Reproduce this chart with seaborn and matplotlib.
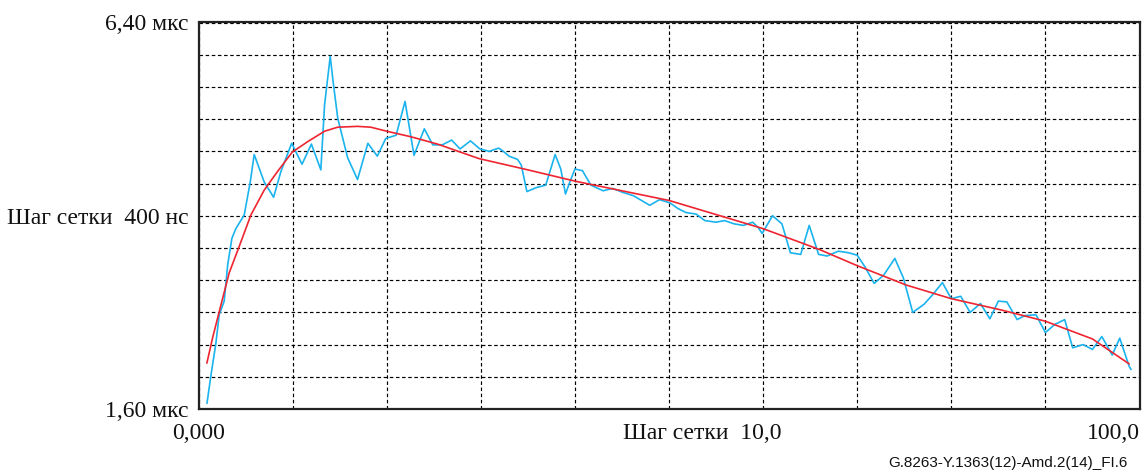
import matplotlib
matplotlib.use("Agg")
import matplotlib.pyplot as plt
import seaborn as sns
import pandas as pd

# Measured series (blue) and fitted curve (red)
blue_x = [0.9, 1.3, 1.84, 2.2, 2.73, 3.1, 3.55, 3.97, 4.86, 5.5, 5.92, 6.98, 7.98, 8.76,
          9.9, 11.0, 12.0, 13.0, 13.4, 14.0, 14.3, 14.8, 15.85, 16.9, 18.0, 19.0, 19.9,
          21.0, 21.95, 22.9, 24.0, 24.9, 25.9, 26.9, 27.8, 28.9, 29.9, 30.9, 31.9, 32.5,
          33.0, 33.9, 34.3, 34.9, 35.9, 36.9, 37.9, 38.5, 39.0, 39.4, 40.0, 40.8, 41.7,
          43.0, 44.0, 45.1, 46.2, 47.95, 49.0, 50.1, 50.95, 51.8, 52.9, 53.8, 55.0, 55.9,
          56.9, 57.9, 58.9, 59.5, 59.9, 61.0, 62.0, 62.9, 64.0, 64.9, 65.9, 66.8, 68.0,
          69.1, 70.0, 70.8, 71.8, 72.8, 74.0, 74.9, 75.9, 77.1, 78.1, 79.05, 80.0, 81.0,
          82.0, 83.1, 84.1, 85.0, 85.9, 87.0, 87.8, 89.0, 90.0, 91.0, 92.05, 92.9, 94.0,
          95.0, 96.0, 97.1, 97.9, 98.9, 99.1]
blue_y = [1.67, 2.0, 2.41, 2.77, 2.94, 3.39, 3.72, 3.84, 4.01, 4.42, 4.76, 4.42, 4.23, 4.55,
          4.90, 4.64, 4.89, 4.57, 5.38, 5.98, 5.67, 5.21, 4.72, 4.45, 4.90, 4.74, 4.96,
          5.0, 5.42, 4.75, 5.08, 4.88, 4.88, 4.94, 4.83, 4.93, 4.83, 4.80, 4.84, 4.79,
          4.74, 4.70, 4.63, 4.30, 4.35, 4.38, 4.76, 4.58, 4.27, 4.40, 4.58, 4.56, 4.38,
          4.31, 4.34, 4.29, 4.25, 4.13, 4.20, 4.16, 4.09, 4.04, 4.02, 3.94, 3.92, 3.94,
          3.90, 3.88, 3.92, 3.85, 3.78, 4.00, 3.90, 3.54, 3.52, 3.88, 3.52, 3.50, 3.56,
          3.54, 3.51, 3.37, 3.16, 3.26, 3.47, 3.23, 2.80, 2.90, 3.03, 3.17, 2.97, 3.00,
          2.80, 2.91, 2.72, 2.94, 2.93, 2.71, 2.76, 2.77, 2.55, 2.65, 2.71, 2.36, 2.40,
          2.34, 2.50, 2.27, 2.48, 2.13, 2.09]

red_x = [0.89, 1.49, 2.38, 3.26, 4.33, 5.57, 6.99, 8.4, 9.96, 11.6, 13.4, 14.8, 16.9, 18.3,
         20.0, 22.6, 25.4, 29.8, 35.0, 40.0, 50.0, 60.0, 66.0, 70.0, 75.2, 80.0, 85.3, 90.0,
         95.0, 98.9]
red_y = [2.17, 2.48, 2.89, 3.29, 3.62, 4.01, 4.32, 4.55, 4.79, 4.92, 5.05, 5.10, 5.11, 5.10,
         5.05, 4.98, 4.89, 4.71, 4.57, 4.43, 4.19, 3.84, 3.58, 3.38, 3.14, 2.97, 2.83, 2.69,
         2.47, 2.16]

x_grid = [0, 10, 20, 30, 40, 50, 60, 70, 80, 90, 100]
y_grid = [1.6, 2.0, 2.4, 2.8, 3.2, 3.6, 4.0, 4.4, 4.8, 5.2, 5.6, 6.0, 6.4]
y_labels = ["1,60 мкс", "", "", "", "", "", "Шаг сетки  400 нс", "", "", "", "", "", "6,40 мкс"]
x_label_left = "0,000"
x_label_mid = "Шаг сетки  10,0"
x_label_right = "100,0"
footnote = "G.8263-Y.1363(12)-Amd.2(14)_FI.6"

blue_df = pd.DataFrame({"x": blue_x, "y": blue_y})
red_df = pd.DataFrame({"x": red_x, "y": red_y})

sns.set_theme(style="white")
plt.rcParams['font.family'] = ['Liberation Serif', 'DejaVu Serif']

W, H = 1143, 473
fig = plt.figure(figsize=(W / 100, H / 100), dpi=100)
ax = fig.add_axes([198.5 / W, 64 / H, 941 / W, 386.5 / H])

sns.lineplot(data=blue_df, x="x", y="y", ax=ax, color="#1AB3EE", linewidth=1.2,
             sort=False, estimator=None)
sns.lineplot(data=red_df, x="x", y="y", ax=ax, color="#EE2530", linewidth=1.2,
             sort=False, estimator=None)

FS = 17
ax.set_xlim(0, 100)
ax.set_ylim(1.6, 6.4)
ax.set_xticks(x_grid)
ax.set_xticklabels([""] * len(x_grid))
ax.set_yticks(y_grid)
ax.set_yticklabels(y_labels)
ax.set_xlabel("")
ax.set_ylabel("")
ax.set_axisbelow(True)
ax.grid(True, color="black", linestyle=(0, (3, 2.2)), linewidth=0.85)
ax.tick_params(axis="both", length=0, labelsize=FS, colors="#111111")
ax.tick_params(axis="y", pad=7)
for s in ax.spines.values():
    s.set_color("#222222")
    s.set_linewidth(1.6)

off = -17.5
ax.annotate(x_label_left, xy=(0, 0), xycoords=("data", "axes fraction"),
            xytext=(0, off), textcoords="offset points", ha="center", va="center",
            fontsize=FS, color="#111111")
ax.annotate(x_label_mid, xy=(62.0, 0), xycoords=("data", "axes fraction"),
            xytext=(0, off), textcoords="offset points", ha="right", va="center",
            fontsize=FS, color="#111111")
ax.annotate(x_label_right, xy=(100, 0), xycoords=("data", "axes fraction"),
            xytext=(0, off), textcoords="offset points", ha="right", va="center",
            fontsize=FS, color="#111111")

fig.text(1128 / W, 1 - 463 / H, footnote, ha="right", va="center",
         family=["Liberation Sans", "DejaVu Sans"], fontsize=11, color="#111111")

fig.savefig("out.png", dpi=100)
